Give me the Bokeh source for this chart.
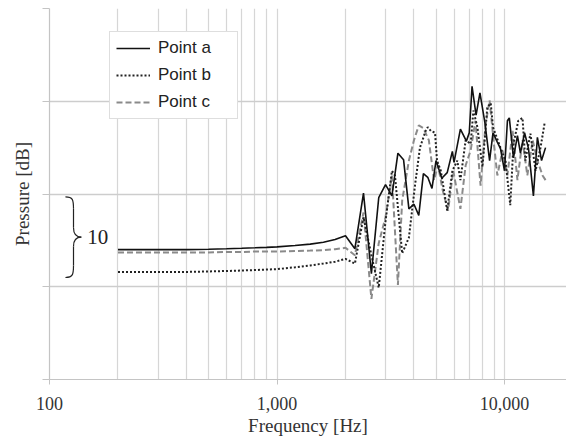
from bokeh.plotting import figure
from bokeh.models import (Range1d, FixedTicker, NumeralTickFormatter, CustomJSTickFormatter,
                          Legend, LegendItem, Label)
from bokeh.embed import file_html
from bokeh.resources import INLINE

# ---------------- data ----------------
freq_a = [200, 300, 400, 500, 600, 700, 800, 900, 1000, 1200, 1400, 1600, 1800, 2000,
          2200, 2400, 2600, 2800, 3000, 3200, 3400, 3600, 3800, 4000, 4200, 4400, 4600,
          4800, 5000, 5300, 5600, 5900, 6000, 6400, 6800, 7000, 7200, 7500, 7800, 8200,
          8600, 8900, 9300, 9600, 10000, 10300, 10500, 10950, 11400, 11750, 12250, 12750,
          13400, 13950, 14550, 15150]
db_a = [14.0, 14.0, 14.0, 14.05, 14.1, 14.15, 14.2, 14.25, 14.3, 14.45, 14.6, 14.8, 15.1, 15.5,
        14.1, 20.1, 11.4, 19.6, 21.0, 19.8, 24.4, 23.7, 18.4, 18.9, 17.7, 22.2, 21.8,
        20.6, 23.6, 21.7, 22.3, 24.6, 23.4, 27.0, 25.7, 26.6, 31.6, 28.5, 30.9, 27.7,
        23.6, 26.6, 25.6, 24.9, 22.5, 27.9, 28.2, 23.9, 26.3, 24.4, 26.6, 24.9,
        19.8, 26.1, 23.6, 25.0]

freq_b = [200, 300, 400, 500, 600, 700, 800, 900, 1000, 1200, 1400, 1600, 1800, 2000,
          2200, 2400, 2600, 2800, 3000, 3200, 3300, 3550, 3800, 4050, 4250, 4500, 4600,
          4750, 4950, 5050, 5250, 5600, 5900, 6200, 6400, 6750, 7100, 7300, 7600, 8000,
          8400, 8700, 8900, 9600, 10100, 10600, 10950, 11500, 12000, 12350, 13000, 13700,
          14400, 15000]
db_b = [11.6, 11.6, 11.6, 11.65, 11.7, 11.75, 11.8, 11.85, 11.9, 12.1, 12.3, 12.5, 12.7, 13.0,
        12.5, 17.5, 13.4, 9.9, 17.1, 22.5, 22.0, 13.6, 15.3, 21.1, 25.0, 26.8, 27.2,
        26.8, 26.6, 23.6, 22.5, 18.2, 22.5, 23.6, 21.5, 25.8, 25.4, 29.0, 27.2, 22.9,
        29.3, 29.8, 27.2, 25.0, 23.6, 18.8, 25.4, 27.9, 28.2, 23.6, 26.5, 22.5,
        25.0, 27.6]

freq_c = [200, 300, 400, 500, 600, 700, 800, 900, 1000, 1200, 1400, 1600, 1800, 2000,
          2200, 2400, 2600, 2800, 3000, 3200, 3400, 3550, 3800, 4000, 4200, 4400, 4650,
          4900, 5100, 5350, 5650, 5950, 6400, 6750, 7100, 7450, 7850, 8250, 8600, 8950,
          9300, 9800, 10300, 10850, 11400, 12000, 12600, 13300, 13950, 14700, 15150]
db_c = [13.7, 13.7, 13.7, 13.7, 13.75, 13.75, 13.8, 13.8, 13.8, 13.85, 13.9, 13.95, 14.05, 14.2,
        13.4, 18.0, 8.7, 14.7, 17.5, 22.0, 10.2, 19.3, 23.6, 25.8, 27.4, 27.1, 25.8,
        21.5, 23.1, 20.4, 18.2, 22.5, 18.4, 23.1, 24.7, 27.9, 20.9, 27.4, 30.1, 25.8,
        22.0, 24.7, 22.0, 26.8, 21.5, 25.8, 22.0, 25.8, 23.6, 22.0, 21.5]

series_names = ["Point a", "Point b", "Point c"]
x_major_ticks = [100, 1000, 10000]
x_minor_ticks = [200, 300, 400, 500, 600, 700, 800, 900,
                 2000, 3000, 4000, 5000, 6000, 7000, 8000, 9000, 20000]
y_ticks = [0, 10, 20, 30, 40]
brace_text = "10"

# ---------------- layout ----------------
W, H = 566, 438
LEFT = 49
TOP = 8
FRAME_H = 371
DECADE_PX = 227.5
x_end = 10 ** (2 + (W - LEFT) / DECADE_PX)

p = figure(width=W, height=H, x_axis_type="log",
           x_range=Range1d(100, x_end), y_range=Range1d(0, 40),
           output_backend="svg", toolbar_location=None,
           min_border_left=LEFT, min_border_right=0, min_border_top=TOP,
           min_border_bottom=H - FRAME_H - TOP)
p.outline_line_color = None
p.background_fill_color = "white"
p.border_fill_color = "white"

# axes
serif = "Liberation Serif"
p.xaxis.ticker = FixedTicker(ticks=x_major_ticks, minor_ticks=x_minor_ticks)
p.xaxis.formatter = NumeralTickFormatter(format="0,0")
p.xaxis.axis_label = "Frequency [Hz]"
p.yaxis.ticker = FixedTicker(ticks=y_ticks)
p.yaxis.formatter = CustomJSTickFormatter(code="return ''")
p.yaxis.axis_label = "Pressure [dB]"
for ax in (p.xaxis[0], p.yaxis[0]):
    ax.axis_line_color = "#c4c4c4"
    ax.axis_line_width = 1.2
    ax.major_tick_line_color = "#c4c4c4"
    ax.major_tick_in = 0
    ax.minor_tick_line_color = None
    ax.major_label_text_font = serif
    ax.major_label_text_font_size = "18px"
    ax.major_label_text_color = "#333333"
    ax.axis_label_text_font = serif
    ax.axis_label_text_font_size = "19px"
    ax.axis_label_text_font_style = "normal"
    ax.axis_label_text_color = "#333333"
p.xaxis.major_tick_out = 5
p.xaxis.major_label_standoff = 12
p.xaxis.axis_label_standoff = 2
p.yaxis.major_tick_out = 7
p.yaxis.major_label_standoff = 0
p.yaxis.axis_label_standoff = 10

# grids
p.xgrid.grid_line_color = "#d6d6d6"
p.xgrid.grid_line_width = 1.2
p.xgrid.minor_grid_line_color = "#d6d6d6"
p.xgrid.minor_grid_line_width = 1.2
p.ygrid.grid_line_color = "#cdcdcd"
p.ygrid.grid_line_width = 1.5

# series
rc = p.line(freq_c, db_c, line_color="#8a8a8a", line_width=2, line_dash="6 3")
rb = p.line(freq_b, db_b, line_color="#222222", line_width=2, line_dash="2 2")
ra = p.line(freq_a, db_a, line_color="#111111", line_width=1.6)

legend = Legend(items=[LegendItem(label=series_names[0], renderers=[ra]),
                       LegendItem(label=series_names[1], renderers=[rb]),
                       LegendItem(label=series_names[2], renderers=[rc])],
                location=(60, 260), margin=0, padding=6, spacing=7,
                glyph_width=34, glyph_height=20, label_height=20, label_width=73,
                label_standoff=8, border_line_color="#bdbdbd", border_line_width=1,
                background_fill_color="white", background_fill_alpha=1,
                label_text_font="Liberation Sans", label_text_font_size="17px",
                label_text_color="#222222")
p.add_layout(legend)

# brace annotation (data units)
BY0, BY1 = 11.0, 19.7
BX_END, BX_SPINE, BX_TIP = 117.5, 127.5, 138.0
mid = (BY0 + BY1) / 2
bx_ctrl = BX_SPINE + (BX_TIP - BX_SPINE) * 0.4
p.bezier(x0=[BX_END, BX_SPINE, BX_SPINE, BX_END],
         y0=[BY1, mid + 1.0, mid - 1.0, BY0],
         x1=[BX_SPINE, BX_TIP, BX_TIP, BX_SPINE],
         y1=[BY1 - 1.3, mid, mid, BY0 + 1.3],
         cx0=[BX_SPINE - 1.0, BX_SPINE, BX_SPINE, BX_SPINE - 1.0],
         cy0=[BY1, mid + 0.2, mid - 0.2, BY0],
         cx1=[BX_SPINE, bx_ctrl, bx_ctrl, BX_SPINE],
         cy1=[BY1 - 0.3, mid, mid, BY0 + 0.3],
         line_color="#222222", line_width=1.2)
p.segment(x0=[BX_SPINE, BX_SPINE], y0=[BY1 - 1.3, BY0 + 1.3],
          x1=[BX_SPINE, BX_SPINE], y1=[mid + 1.0, mid - 1.0],
          line_color="#222222", line_width=1.2)
p.add_layout(Label(x=146.5, y=mid, text=brace_text, text_font=serif,
                   text_font_size="21px", text_color="#222222",
                   text_align="left", text_baseline="middle"))

open("out.html", "w").write(file_html(p, INLINE))
